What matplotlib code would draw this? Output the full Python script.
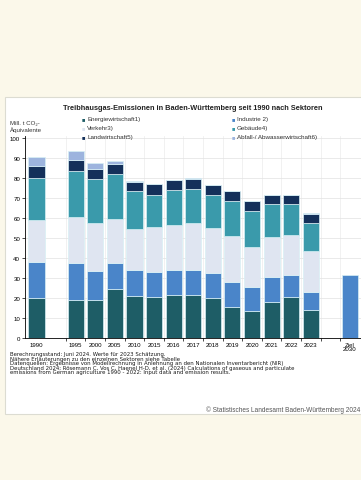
import matplotlib.pyplot as plt
from matplotlib.patches import Rectangle

# Daten (Mill. t CO2-Aequivalente)
jahre = ['1990', '1995', '2000', '2005', '2010', '2015', '2016', '2017',
         '2018', '2019', '2020', '2021', '2022', '2023']
slots = [0, 2, 3, 4, 5, 6, 7, 8, 9, 10, 11, 12, 13, 14]
energie = [20.0, 19.3, 19.3, 24.8, 21.3, 20.5, 21.5, 21.6, 20.0, 15.8, 13.5, 18.3, 20.8, 14.2]
industrie = [18.3, 18.3, 14.2, 12.9, 13.0, 12.8, 12.8, 12.7, 12.7, 12.2, 12.0, 12.2, 11.0, 8.8]
verkehr = [20.8, 22.9, 24.2, 22.0, 20.4, 22.2, 22.6, 23.4, 22.3, 23.0, 20.3, 20.3, 20.0, 20.8]
gebaeude = [20.9, 23.0, 22.0, 22.5, 18.8, 16.3, 17.4, 17.0, 16.8, 17.8, 18.0, 16.4, 15.4, 14.0]
landwirtschaft = [6.0, 5.8, 5.0, 5.0, 4.8, 5.2, 4.8, 5.1, 4.7, 4.8, 4.8, 4.3, 4.3, 4.5]
abfall = [4.5, 4.5, 2.8, 1.6, 0.2, 0.2, 0.2, 0.2, 0.2, 0.2, 0.2, 0.2, 0.2, 0.2]
ziel_slot = 16
ziel_label = 'Ziel\n2030'
ziel_wert = 31.8

serien = [energie, industrie, verkehr, gebaeude, landwirtschaft, abfall]
namen = ['Energiewirtschaft1)', 'Industrie 2)', 'Verkehr3)', 'Gebäude4)',
         'Landwirtschaft5)', 'Abfall-/ Abwasserwirtschaft6)']
farben = ['#1e5d66', '#4a85c9', '#dfe5f1', '#3a9aab', '#14305a', '#9db4de']

plt.rcParams['font.family'] = ['Liberation Sans', 'DejaVu Sans']

fig = plt.figure(figsize=(3.61, 4.81), dpi=100)
fig.patch.set_facecolor('#fbf8ea')

# weisses Panel
fig.add_artist(Rectangle((5 / 361, 66 / 481), 1, 317 / 481, transform=fig.transFigure,
                         facecolor='white', edgecolor='#dcdcd2', linewidth=0.8, zorder=0))

ax = fig.add_axes([25 / 361, (481 - 339.3) / 481, 336 / 361, 202 / 481])
ax.set_facecolor('white')

unten = [0] * len(jahre)
for werte, farbe in zip(serien, farben):
    ax.bar(slots, werte, 0.82, bottom=unten, color=farbe, edgecolor='#d8f0f5',
           linewidth=0.5, zorder=3)
    unten = [u + w for u, w in zip(unten, werte)]
ax.bar([ziel_slot], [ziel_wert], 0.82, color=farben[1],
       edgecolor='#d8f0f5', linewidth=0.5, zorder=3)

ax.set_xlim(-0.587, 16.56)
ax.set_ylim(0, 101)
ax.set_yticks(range(0, 101, 10))
ax.set_xticks(slots + [ziel_slot])
ax.set_xticklabels(jahre + [ziel_label], fontsize=4.4, linespacing=0.9)
ax.tick_params(axis='x', length=0, pad=2.5)
ax.tick_params(axis='y', labelsize=4.4, length=2, width=0.5, pad=1.5)
grenzen = [k + 0.5 for k in range(1, 16)]
ax.set_xticks(grenzen, minor=True)
ax.tick_params(axis='x', which='minor', length=2, width=0.5, direction='out')
ax.grid(axis='y', color='#e2e2e2', linewidth=0.5, zorder=0)
for g in grenzen:
    ax.axvline(g, color='#ececec', linewidth=0.5, zorder=0)
for s in ['top', 'right']:
    ax.spines[s].set_visible(False)
ax.spines['left'].set_linewidth(0.6)
ax.spines['bottom'].set_linewidth(0.6)

# Titel, Achsenbeschriftung, Legende
fig.text(193 / 361, 1 - 109 / 481, 'Treibhausgas-Emissionen in Baden-Württemberg seit 1990 nach Sektoren',
         ha='center', va='center', fontsize=5.3, fontweight='bold', color='#222222')
fig.text(10 / 361, 1 - 127 / 481, 'Mill. t CO₂-\nÄquivalente', ha='left', va='center',
         fontsize=4.4, color='#333333', linespacing=1.1)

pos = [(83, 120), (233, 120), (83, 129), (233, 129), (83, 138), (233, 138)]
for (px, py), name, farbe in zip(pos, namen, farben):
    fig.text(px / 361, 1 - py / 481, '■', color=farbe, fontsize=4, ha='center', va='center')
    fig.text((px + 4) / 361, 1 - py / 481, name, fontsize=4.5, ha='left', va='center',
             color='#333333')

# Fussnoten
fussnote = ('Berechnungsstand: Juni 2024. Werte für 2023 Schätzung.\n'
            'Nähere Erläuterungen zu den einzelnen Sektoren siehe Tabelle\n'
            'Datenquellen: Ergebnisse von Modellrechnung in Anlehnung an den Nationalen Inventarbericht (NIR)\n'
            'Deutschland 2024; Rösemann C, Vos C, Haenel H-D, et al. (2024) Calculations of gaseous and particulate\n'
            'emissions from German agriculture 1990 - 2022: Input data and emission results.')
fig.text(10 / 361, 1 - 352 / 481, fussnote, ha='left', va='top', fontsize=3.9,
         family='DejaVu Sans', color='#1a1a1a', linespacing=0.9)
fig.text(360 / 361, 1 - 410 / 481, '© Statistisches Landesamt Baden-Württemberg 2024',
         ha='right', va='center', fontsize=4.7, color='#555555')

fig.savefig('out.png', dpi=100, facecolor=fig.get_facecolor())
